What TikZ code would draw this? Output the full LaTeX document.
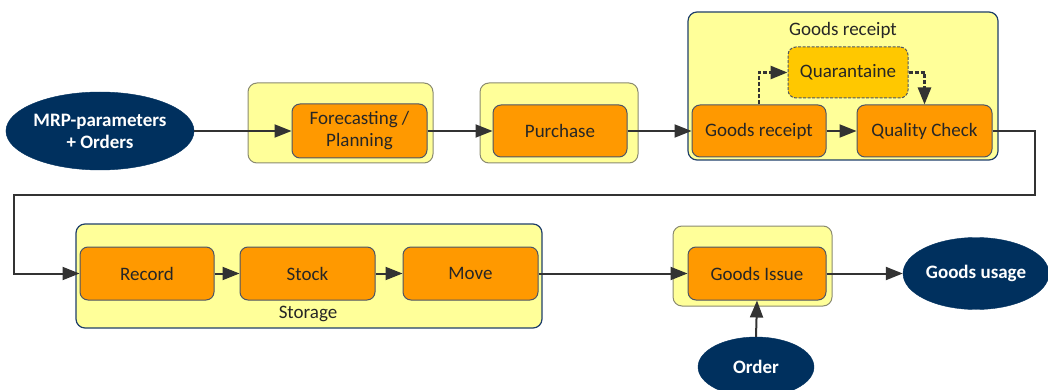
\documentclass[tikz,border=0pt]{standalone}
\usepackage{fontspec}
\setmainfont{Carlito}
\usetikzlibrary{arrows.meta,shapes.geometric}
\definecolor{navy}{HTML}{00305E}
\definecolor{yellowbg}{HTML}{FFFF99}
\definecolor{olivegray}{HTML}{8A8A70}
\definecolor{bluegray}{HTML}{1F3F6A}
\definecolor{taskorange}{HTML}{FF9900}
\definecolor{taskline}{HTML}{4C5566}
\definecolor{goldfill}{HTML}{FFC800}
\definecolor{arrowgray}{HTML}{333333}
\definecolor{textdark}{HTML}{262626}
\tikzset{
  group/.style={draw=olivegray, fill=yellowbg, rounded corners=9pt, line width=1pt, inner sep=0pt},
  groupblue/.style={group, draw=bluegray, line width=1.2pt},
  task/.style={draw=taskline, fill=taskorange, rounded corners=8pt, line width=1pt,
    text=textdark, font=\fontsize{19}{22}\selectfont, align=center, inner sep=0pt},
  holdbox/.style={task, fill=goldfill, dash pattern=on 3pt off 1.5pt},
  term/.style={ellipse, fill=navy, draw=navy, text=white, inner sep=0pt,
    font=\fontsize{19}{22}\selectfont\bfseries, align=center},
  grouplabel/.style={text=textdark, font=\fontsize{19}{22}\selectfont, inner sep=0pt},
  flow/.style={draw=arrowgray, line width=2pt, -{Triangle[length=17pt,width=13pt]}},
  dashflow/.style={flow, line width=2.6pt, dash pattern=on 4pt off 2pt}
}
\begin{document}
\begin{tikzpicture}[x=1pt,y=-1pt]
\useasboundingbox (0,0) rectangle (1048,390);

% grouping frames
\node[group, minimum width=185pt, minimum height=80pt] (fcG) at (340.5,123) {};
\node[group, minimum width=158pt, minimum height=80pt] (puG) at (559,123) {};
\node[groupblue, minimum width=310pt, minimum height=148pt] (grG) at (843,86) {};
\node[grouplabel] (grT) at (843,30) {Goods receipt};
\node[groupblue, minimum width=466pt, minimum height=104pt] (stG) at (309,276) {};
\node[grouplabel] (stT) at (308,314) {Storage};
\node[group, minimum width=159pt, minimum height=80pt] (giG) at (752.5,266) {};

% process steps
\node[task, minimum width=135pt, minimum height=54pt] (fc) at (359.5,131) {Forecasting /\\Planning};
\node[task, minimum width=134pt, minimum height=52pt] (pu) at (560,131) {Purchase};
\node[holdbox, minimum width=120pt, minimum height=51pt] (qu) at (848,72.5) {Quarantaine};
\node[task, minimum width=134pt, minimum height=52pt] (gr) at (759,131) {Goods receipt};
\node[task, minimum width=135pt, minimum height=52pt] (qc) at (924.5,131) {Quality Check};
\node[task, minimum width=134pt, minimum height=53pt] (rec) at (147,273.5) {Record};
\node[task, minimum width=135pt, minimum height=53pt] (sto) at (307.5,273.5) {Stock};
\node[task, minimum width=135pt, minimum height=53pt] (mov) at (470.5,273.5) {Move};
\node[task, minimum width=138pt, minimum height=53pt] (gi) at (757,273.5) {Goods Issue};

% inputs and outputs
\node[term, minimum width=184pt, minimum height=78pt] (mrp) at (100,131) {MRP-parameters\\+ Orders};
\node[term, minimum width=146pt, minimum height=72pt] (gu) at (976,273.5) {Goods usage};
\node[term, minimum width=116pt, minimum height=60pt] (ord) at (756,367) {Order};

% flow
\draw[flow] (mrp.east) -- (fc.west);
\draw[flow] (fc.east) -- (pu.west);
\draw[flow] (pu.east) -- (gr.west);
\draw[flow] (gr.east) -- (qc.west);
\draw[dashflow] (gr.north) |- (qu.west);
\draw[dashflow] (qu.east) -| (qc.north);
\coordinate (turnR) at (1035,195);
\coordinate (turnL) at (14,195);
\draw[flow] (qc.east) -| (turnR) -- (turnL) |- (rec.west);
\draw[flow] (rec.east) -- (sto.west);
\draw[flow] (sto.east) -- (mov.west);
\draw[flow] (mov.east) -- (gi.west);
\draw[flow] (gi.east) -- (gu.west);
\draw[flow] (ord.north) -- (gi.south);
\end{tikzpicture}
\end{document}
